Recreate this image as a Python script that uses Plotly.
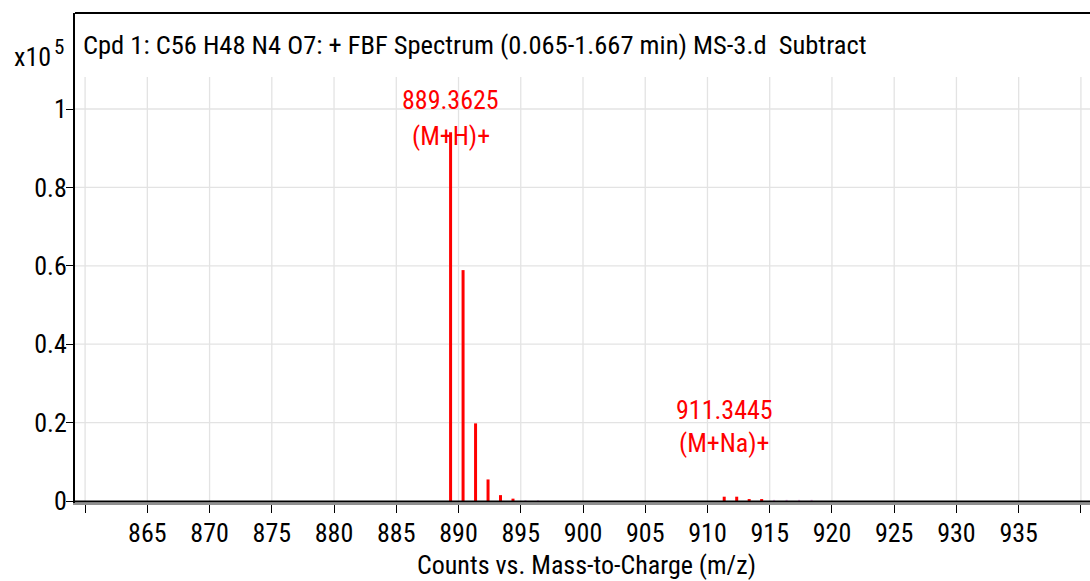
import plotly.graph_objects as go

# Centroided peaks (m/z, counts x10^5)
mz_main = [889.3625, 890.3655, 891.3688, 892.3716, 893.3745, 894.3770, 911.3445, 912.3478, 913.3505, 914.3530]
int_main = [0.941, 0.589, 0.198, 0.055, 0.015, 0.006, 0.011, 0.011, 0.005, 0.005]

# Minor peaks drawn in a lighter colour
mz_minor = [895.378, 896.381, 915.356, 916.359, 917.362, 918.365]
int_minor = [0.002, 0.002, 0.003, 0.003, 0.003, 0.003]

# Peak labels
label_mz = [889.3625, 911.3445]
label_ion = ["(M+H)+", "(M+Na)+"]
label_y1 = [1.023, 0.232]
label_y2 = [0.931, 0.148]

x_ticks = list(range(860, 941, 5))
x_ticklabels = [str(v) if 865 <= v <= 935 else "" for v in x_ticks]
y_ticks = [0, 0.2, 0.4, 0.6, 0.8, 1.0]
y_ticklabels = ["0", "0.2", "0.4", "0.6", "0.8", "1"]

XR = [859.19, 940.73]
YR = [-0.0051, 1.2449]
GRID_TOP = 1.0816

FONT = "Noto Sans Condensed, Roboto Condensed, DejaVu Sans Condensed, sans-serif"
FS = 26


def stems(xs, ys):
    px, py = [], []
    for x, y in zip(xs, ys):
        px += [x, x, None]
        py += [0, y, None]
    return px, py


fig = go.Figure()

# grid: vertical lines stop below the title band
shapes = []
for v in x_ticks:
    shapes.append(dict(type="line", xref="x", yref="y", x0=v, x1=v, y0=0, y1=GRID_TOP,
                       line=dict(color="#e3e3e3", width=1.3), layer="below"))
for v in y_ticks[1:]:
    shapes.append(dict(type="line", xref="paper", yref="y", x0=0, x1=1, y0=v, y1=v,
                       line=dict(color="#e3e3e3", width=1.3), layer="below"))
# baseline
shapes.append(dict(type="line", xref="paper", yref="y", x0=0, x1=1, y0=-0.001, y1=-0.001,
                   line=dict(color="black", width=2)))
# top border of frame
shapes.append(dict(type="line", xref="paper", yref="paper", x0=0, x1=1, y0=1, y1=1,
                   line=dict(color="black", width=2)))

px, py = stems(mz_minor, int_minor)
fig.add_trace(go.Scatter(x=px, y=py, mode="lines", line=dict(color="#e8a8e8", width=2),
                         hoverinfo="skip", showlegend=False))
px, py = stems(mz_main, int_main)
fig.add_trace(go.Scatter(x=px, y=py, mode="lines", line=dict(color="#ff0000", width=3),
                         hoverinfo="skip", showlegend=False))

red = dict(family=FONT, size=FS, color="#ff0000")
black = dict(family=FONT, size=FS, color="black")

annotations = []
for m, ion, y1, y2 in zip(label_mz, label_ion, label_y1, label_y2):
    annotations.append(dict(x=m, y=y1, xref="x", yref="y", text=f"{m:.4f}",
                            showarrow=False, xanchor="center", yanchor="middle", font=red))
    annotations.append(dict(x=m, y=y2, xref="x", yref="y", text=ion,
                            showarrow=False, xanchor="center", yanchor="middle", font=red))

annotations.append(dict(x=0.006, y=0.935, xref="paper", yref="paper", xanchor="left", yanchor="middle",
                        text="Cpd 1: C56 H48 N4 O7: + FBF Spectrum (0.065-1.667 min) MS-3.d  Subtract",
                        showarrow=False, font=dict(family=FONT, size=26.5, color="black")))
annotations.append(dict(x=-0.062, y=0.910, xref="paper", yref="paper", xanchor="left", yanchor="middle",
                        text="x10", showarrow=False, font=black))
annotations.append(dict(x=-0.0227, y=0.931, xref="paper", yref="paper", xanchor="left", yanchor="middle",
                        text="5", showarrow=False, font=dict(family=FONT, size=21, color="black")))
annotations.append(dict(x=0.504, y=-0.1265, xref="paper", yref="paper", xanchor="center", yanchor="middle",
                        text="Counts vs. Mass-to-Charge (m/z)", showarrow=False, font=black))

fig.update_layout(
    width=1090, height=581,
    margin=dict(l=75, r=0, t=13, b=78),
    plot_bgcolor="white", paper_bgcolor="white",
    shapes=shapes, annotations=annotations,
    font=dict(family=FONT, color="black"),
    xaxis=dict(range=XR, tickvals=x_ticks, ticktext=x_ticklabels, showgrid=False, zeroline=False,
               showline=True, linecolor="#909090", linewidth=1.5, ticks="outside", ticklen=8,
               tickcolor="black", tickwidth=1.3, tickfont=black, ticklabelstandoff=-2),
    yaxis=dict(range=YR, tickvals=y_ticks, ticktext=y_ticklabels, showgrid=False, zeroline=False,
               showline=True, linecolor="black", linewidth=2, ticks="outside", ticklen=7,
               tickcolor="black", tickwidth=1.3, tickfont=black, ticklabelstandoff=-6),
)

fig.write_html("out.html")
